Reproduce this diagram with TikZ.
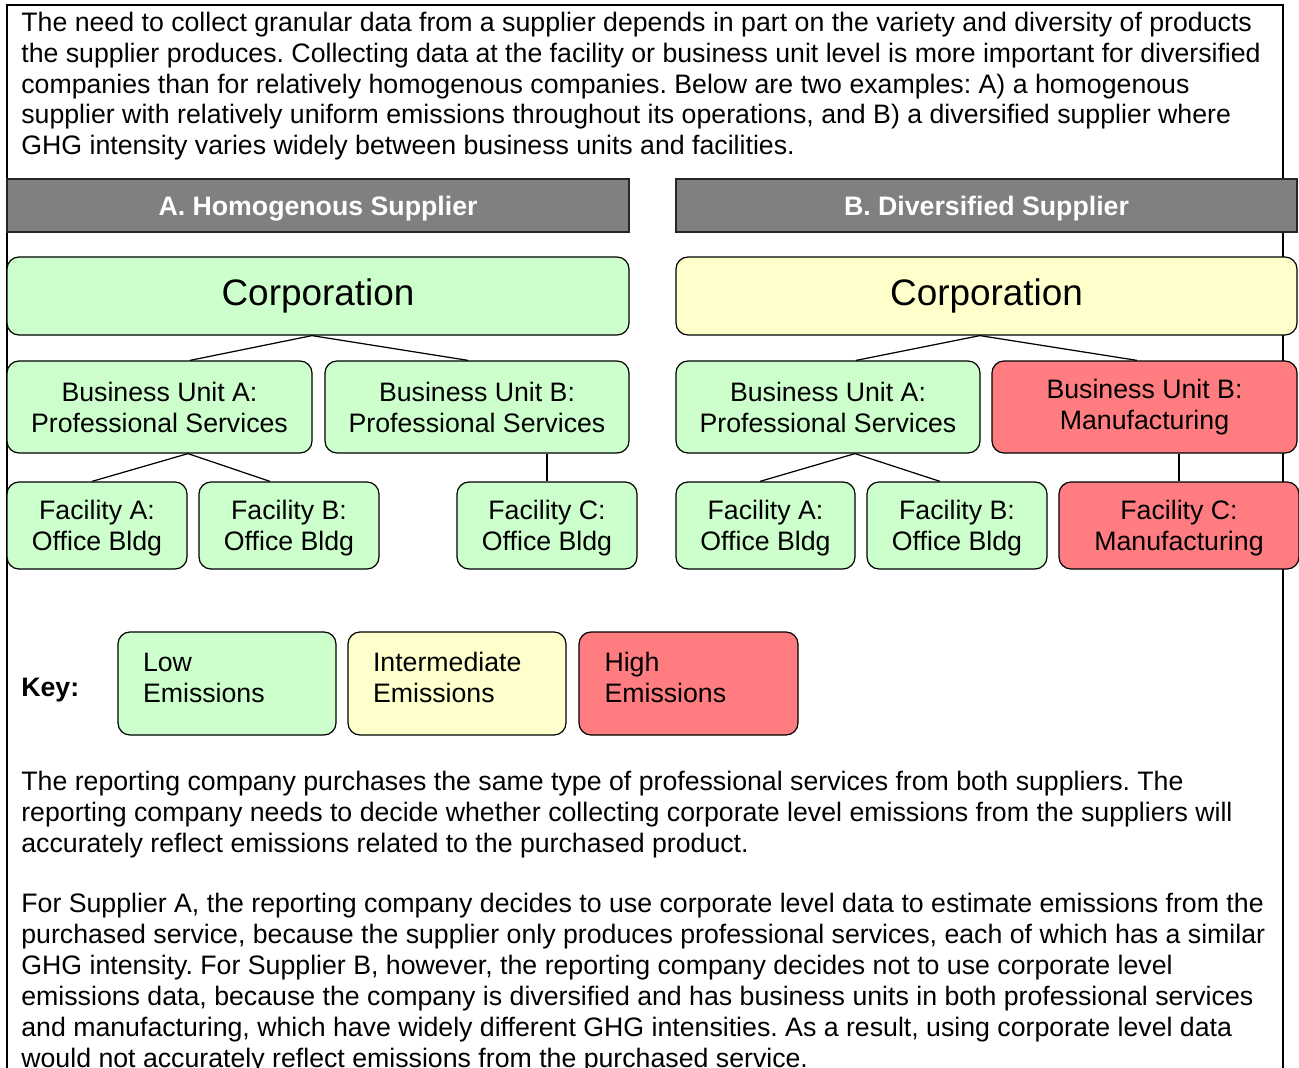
\documentclass[tikz,border=0pt]{standalone}
\usepackage{fontspec}
\setmainfont{Liberation Sans}
\usetikzlibrary{positioning,calc}

\definecolor{lowgreen}{HTML}{CCFFCC}
\definecolor{midyellow}{HTML}{FFFFCC}
\definecolor{highred}{HTML}{FF7C80}
\definecolor{hdrgray}{HTML}{808080}

\newcommand{\bodyfont}{\fontsize{15.2}{17.6}\selectfont\frenchspacing}

\begin{document}
\begin{tikzpicture}[
  x=0.02cm, y=-0.02cm,
  para/.style={anchor=north west, align=left, inner sep=0pt, font=\bodyfont},
  hdr/.style={draw=black!85, line width=0.8pt, fill=hdrgray, text=white,
    font=\fontsize{15.2}{17}\selectfont\bfseries, inner sep=0pt, text depth=0pt},
  unit/.style={draw, line width=0.7pt, rounded corners=0.24cm, align=center,
    inner sep=0pt, font=\bodyfont},
  low/.style={unit, fill=lowgreen},
  mid/.style={unit, fill=midyellow},
  high/.style={unit, fill=highred},
  fac/.style={text depth=0pt},
  keybox/.style={unit, align=left, text width=3.36cm, text depth=0.86cm},
  link/.style={line width=0.7pt}
]
  \useasboundingbox (0,0) rectangle (1299,1068);

  % outer frame, open at the bottom
  \draw[line width=1.1pt] (7,1080) -- (7,5) -- (1283,5) -- (1283,1080);

  % introduction
  \node[para] (intro) at (21,11.5) {The need to collect granular data from a supplier depends in part on the variety and diversity of products\\
the supplier produces. Collecting data at the facility or business unit level is more important for diversified\\
companies than for relatively homogenous companies. Below are two examples: A) a homogenous\\
supplier with relatively uniform emissions throughout its operations, and B) a diversified supplier where\\
GHG intensity varies widely between business units and facilities.};

  % headers
  \node[hdr, minimum width=622*0.02cm, minimum height=53*0.02cm] (hdrA) at (318,205.5) {A. Homogenous Supplier};
  \node[hdr, minimum width=621*0.02cm, minimum height=53*0.02cm] (hdrB) at (986.5,205.5) {B. Diversified Supplier};

  % supplier A
  \node[low, minimum width=622*0.02cm, minimum height=78*0.02cm, font=\fontsize{21}{25}\selectfont] (corpA) at (318,296) {Corporation};
  \node[low, minimum width=305*0.02cm, minimum height=92*0.02cm] (buA) at (159.5,407) {Business Unit A:\\Professional Services};
  \node[low, minimum width=304*0.02cm, minimum height=92*0.02cm] (buB) at (477,407) {Business Unit B:\\Professional Services};
  \node[low, fac, minimum width=180*0.02cm, minimum height=87*0.02cm] (facA) at (97,525.5) {Facility A:\\Office Bldg};
  \node[low, fac, minimum width=180*0.02cm, minimum height=87*0.02cm] (facB) at (289,525.5) {Facility B:\\Office Bldg};
  \node[low, fac, minimum width=180*0.02cm, minimum height=87*0.02cm] (facC) at (547,525.5) {Facility C:\\Office Bldg};

  % supplier B
  \node[mid, minimum width=621*0.02cm, minimum height=78*0.02cm, font=\fontsize{21}{25}\selectfont] (corpB) at (986.5,296) {Corporation};
  \node[low, minimum width=304*0.02cm, minimum height=92*0.02cm] (buA2) at (828,407) {Business Unit A:\\Professional Services};
  \node[high, minimum width=305*0.02cm, minimum height=92*0.02cm] (buB2) at (1144.5,407) {Business Unit B:\\Manufacturing};
  \node[low, fac, minimum width=179*0.02cm, minimum height=87*0.02cm] (facA2) at (765.5,525.5) {Facility A:\\Office Bldg};
  \node[low, fac, minimum width=180*0.02cm, minimum height=87*0.02cm] (facB2) at (957,525.5) {Facility B:\\Office Bldg};
  \node[high, fac, minimum width=240*0.02cm, minimum height=87*0.02cm] (facC2) at (1179,525.5) {Facility C:\\Manufacturing};

  % tree lines
  \draw[link] ([xshift=0.61cm]buA.north) -- ([xshift=-0.12cm]corpA.south) -- ([xshift=-0.18cm]buB.north);
  \draw[link] ([xshift=-0.1cm]facA.north) -- ([xshift=0.57cm]buA.south) -- ([xshift=-0.38cm]facB.north);
  \draw[link] (buB.south -| facC.north) -- (facC.north);
  \draw[link] ([xshift=0.56cm]buA2.north) -- ([xshift=-0.13cm]corpB.south) -- ([xshift=-0.15cm]buB2.north);
  \draw[link] ([xshift=-0.11cm]facA2.north) -- ([xshift=0.54cm]buA2.south) -- ([xshift=-0.34cm]facB2.north);
  \draw[link] (buB2.south -| facC2.north) -- (facC2.north);

  % key
  \node[anchor=west, font=\bodyfont\bfseries, inner sep=0pt] (key) at (21,690) {Key:};
  \node[keybox, fill=lowgreen, minimum width=218*0.02cm, minimum height=103*0.02cm] (kLow) at (227,683.5) {Low\\Emissions};
  \node[keybox, fill=midyellow, minimum width=218*0.02cm, minimum height=103*0.02cm] (kMid) at (457,683.5) {Intermediate\\Emissions};
  \node[keybox, fill=highred, minimum width=219*0.02cm, minimum height=103*0.02cm] (kHigh) at (688.5,683.5) {High\\Emissions};

  % closing text
  \node[para] (ask) at (21,771) {The reporting company purchases the same type of professional services from both suppliers. The\\
reporting company needs to decide whether collecting corporate level emissions from the suppliers will\\
accurately reflect emissions related to the purchased product.};
  \node[para] (answer) at (21,893) {For Supplier A, the reporting company decides to use corporate level data to estimate emissions from the\\
purchased service, because the supplier only produces professional services, each of which has a similar\\
GHG intensity. For Supplier B, however, the reporting company decides not to use corporate level\\
emissions data, because the company is diversified and has business units in both professional services\\
and manufacturing, which have widely different GHG intensities. As a result, using corporate level data\\
would not accurately reflect emissions from the purchased service.};
\end{tikzpicture}
\end{document}
